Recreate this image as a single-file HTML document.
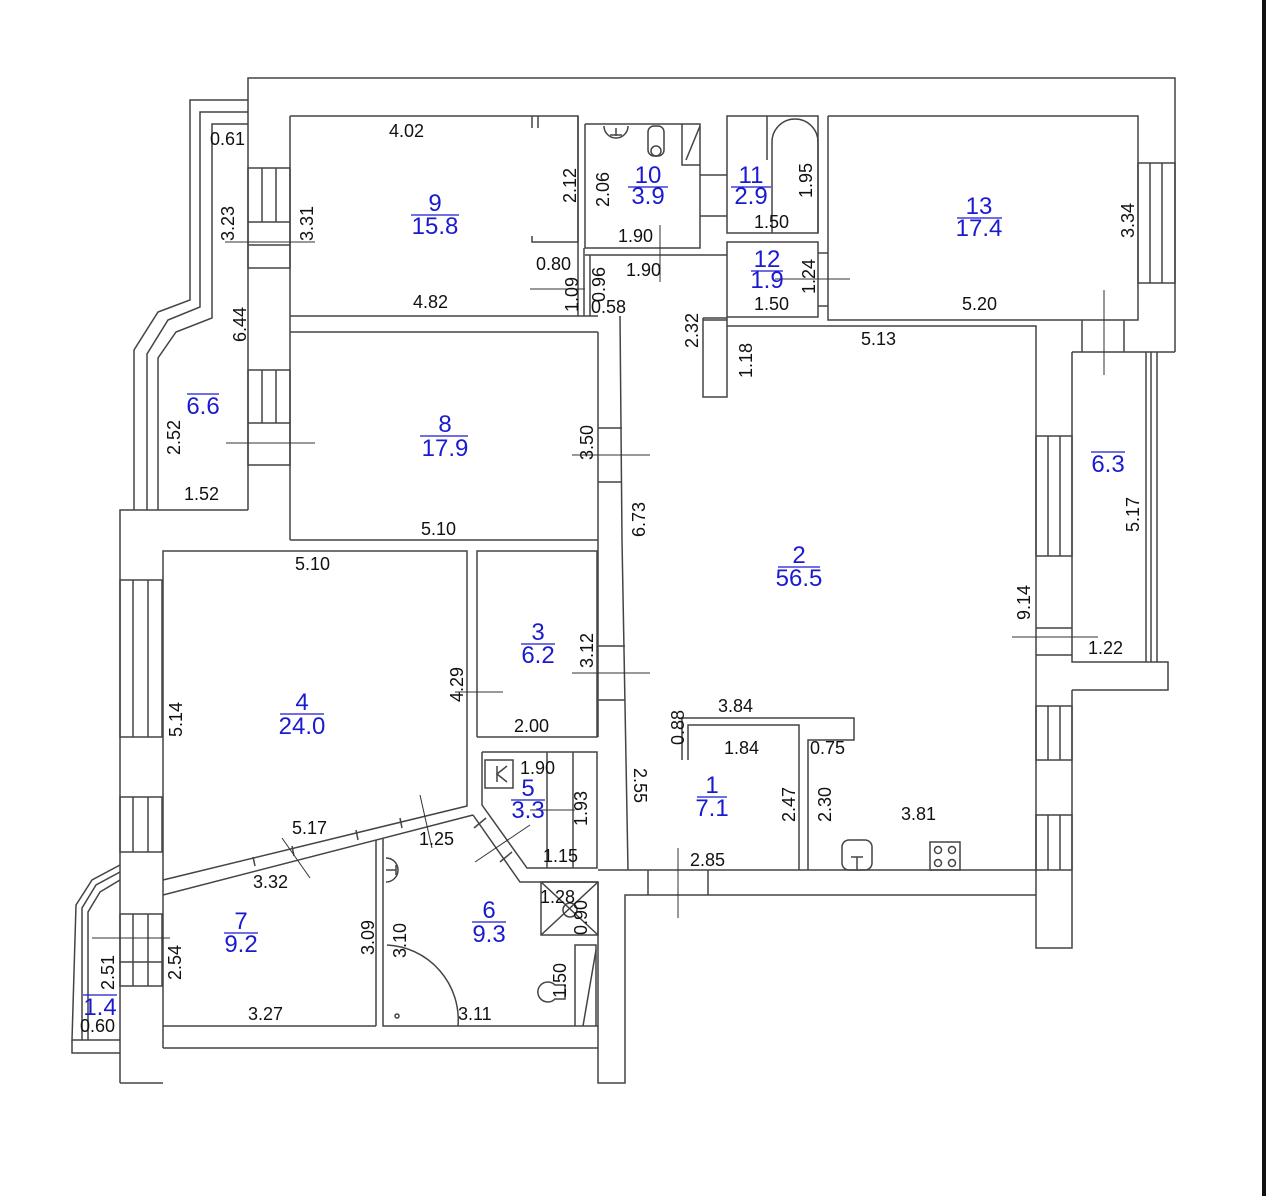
<!DOCTYPE html>
<html><head><meta charset="utf-8"><style>
html,body{margin:0;padding:0;background:#fff}
svg{display:block}
text{font-family:"Liberation Sans",sans-serif}
.d{font-size:18px;fill:#111}
.b{font-size:24px;fill:#1a1ad0}
</style></head><body>
<svg width="1266" height="1196" viewBox="0 0 1266 1196" xmlns="http://www.w3.org/2000/svg">
<rect x="1262" y="0" width="4" height="1196" fill="#111"/>
<g fill="none" stroke="#444" stroke-width="1.5">
<polyline points="248,510 248,78 1175,78 1175,352"/>
<polyline points="1072,352 1175,352"/>
<polyline points="290,116 578,116 578,242 532,242 532,236"/>
<line x1="532" y1="116" x2="532" y2="128"/><line x1="538" y1="116" x2="538" y2="128"/>
<line x1="578" y1="116" x2="578" y2="316"/>
<line x1="290" y1="116" x2="290" y2="540"/>
<line x1="290" y1="316" x2="598" y2="316"/>
<line x1="290" y1="332" x2="598" y2="332"/>
<polyline points="598,332 598,737"/>
<polyline points="620,316 622,540 628,870"/>
<line x1="290" y1="540" x2="598" y2="540"/>
<line x1="584" y1="248" x2="584" y2="316"/>
<line x1="590" y1="255" x2="590" y2="316"/>
<polyline points="585,124 700,124 700,248 585,248 585,124"/>
<line x1="585" y1="255" x2="727" y2="255"/>
<path d="M604,126 a12,12 0 0 0 24,0" /><line x1="616" y1="128" x2="616" y2="136"/><line x1="610" y1="135" x2="622" y2="135"/>
<rect x="648" y="126" width="16" height="30" rx="6"/><circle cx="656" cy="151" r="5"/>
<polyline points="682,124 682,165 700,165"/><line x1="686" y1="160" x2="700" y2="126"/>
<line x1="700" y1="175" x2="727" y2="175"/><line x1="700" y1="216" x2="727" y2="216"/>
<rect x="727" y="116" width="91" height="117"/>
<line x1="767" y1="116" x2="767" y2="160"/>
<path d="M772,233 L772,142 a23,23 0 0 1 46,0 L818,233"/>
<rect x="727" y="242" width="91" height="75"/>
<line x1="818" y1="253" x2="828" y2="253"/><line x1="818" y1="306" x2="828" y2="306"/>
<polyline points="828,116 1138,116 1138,320 828,320 828,116"/>
<rect x="1138" y="163" width="37" height="120"/>
<line x1="1150" y1="163" x2="1150" y2="283"/><line x1="1162" y1="163" x2="1162" y2="283"/>
<line x1="1082" y1="320" x2="1082" y2="352"/><line x1="1124" y1="320" x2="1124" y2="352"/>
<polyline points="703,318 727,318 727,397 703,397 703,318"/>
<line x1="703" y1="320" x2="727" y2="320"/>
<polyline points="727,326 1036,326 1036,870"/>
<polyline points="1072,352 1072,662 1168,662 1168,690 1072,690"/>
<line x1="1146" y1="352" x2="1146" y2="662"/><line x1="1151" y1="352" x2="1151" y2="662"/><line x1="1157" y1="352" x2="1157" y2="662"/>
<polyline points="1072,690 1072,948 1036,948 1036,870"/>
<rect x="1036" y="436" width="36" height="120"/><line x1="1048" y1="436" x2="1048" y2="556"/><line x1="1060" y1="436" x2="1060" y2="556"/>
<rect x="1036" y="706" width="36" height="54"/><line x1="1048" y1="706" x2="1048" y2="760"/><line x1="1060" y1="706" x2="1060" y2="760"/>
<rect x="1036" y="815" width="36" height="55"/><line x1="1048" y1="815" x2="1048" y2="870"/><line x1="1060" y1="815" x2="1060" y2="870"/>
<line x1="1036" y1="628" x2="1072" y2="628"/><line x1="1036" y1="655" x2="1072" y2="655"/>
<rect x="248" y="168" width="42" height="100"/><line x1="262" y1="168" x2="262" y2="222"/><line x1="276" y1="168" x2="276" y2="222"/><line x1="248" y1="222" x2="290" y2="222"/><line x1="248" y1="245" x2="290" y2="245"/>
<rect x="248" y="370" width="42" height="95"/><line x1="262" y1="370" x2="262" y2="423"/><line x1="276" y1="370" x2="276" y2="423"/><line x1="248" y1="423" x2="290" y2="423"/>
<polyline points="248,100 190,100 190,300 158,312 134,350 134,510"/>
<polyline points="248,112 200,112 200,307 168,320 147,354 147,510"/>
<polyline points="248,124 212,124 212,318 176,332 158,358 158,510"/>
<polyline points="120,1083 120,510 248,510"/>
<polyline points="163,1048 163,551 467,551 467,806 163,880"/>
<polyline points="163,895 473,815"/>
<rect x="120" y="580" width="42" height="157"/><line x1="133" y1="580" x2="133" y2="737"/><line x1="148" y1="580" x2="148" y2="737"/>
<rect x="120" y="797" width="42" height="55"/><line x1="133" y1="797" x2="133" y2="852"/><line x1="148" y1="797" x2="148" y2="852"/>
<rect x="120" y="914" width="42" height="72"/><line x1="133" y1="914" x2="133" y2="986"/><line x1="148" y1="914" x2="148" y2="986"/><line x1="120" y1="962" x2="162" y2="962"/>
<line x1="120" y1="1083" x2="163" y2="1083"/>
<line x1="163" y1="1048" x2="598" y2="1048"/>
<line x1="163" y1="1026" x2="376" y2="1026"/>
<line x1="253" y1="857" x2="255" y2="866"/><line x1="292" y1="846" x2="294" y2="856"/><line x1="356" y1="830" x2="358" y2="840"/><line x1="400" y1="818" x2="402" y2="828"/>
<polyline points="376,840 376,1026"/><polyline points="383,838 383,1026 598,1026"/>
<polyline points="477,737 477,551 597,551 597,737 477,737"/>
<polyline points="482,752 597,752 597,868 527,868 482,805 482,752"/>
<line x1="547" y1="752" x2="547" y2="868"/><line x1="573" y1="752" x2="573" y2="868"/>
<rect x="485" y="760" width="28" height="28"/><path d="M497,766 L497,782 M507,766 L497,774 L507,782"/>
<polyline points="473,815 520,882 598,882"/>
<line x1="474" y1="828" x2="486" y2="818"/><line x1="500" y1="862" x2="512" y2="852"/>
<rect x="541" y="882" width="57" height="53"/><line x1="541" y1="882" x2="598" y2="935"/><line x1="598" y1="882" x2="541" y2="935"/><circle cx="570" cy="910" r="7"/>
<path d="M575,1026 L575,945 L596,945 L596,1026"/><line x1="583" y1="1026" x2="596" y2="950"/>
<path d="M555,985 a10,10 0 1 0 0,14 L565,999 L565,985 Z"/>
<path d="M386,858 a12,12 0 0 1 0,24"/><line x1="386" y1="870" x2="396" y2="870"/><line x1="396" y1="865" x2="396" y2="875"/>
<path d="M387,945 A75,75 0 0 1 458,1026"/>
<circle cx="397" cy="1016" r="2"/>
<polyline points="598,882 598,1083 625,1083 625,895 1036,895"/>
<line x1="598" y1="870" x2="1036" y2="870"/>
<line x1="648" y1="870" x2="648" y2="895"/><line x1="708" y1="870" x2="708" y2="895"/>
<polyline points="682,760 682,718 854,718 854,740 808,740 808,870"/>
<polyline points="688,760 688,725 799,725 799,870"/>
<rect x="842" y="840" width="30" height="30" rx="7"/><line x1="857" y1="857" x2="857" y2="870"/><line x1="851" y1="857" x2="863" y2="857"/>
<rect x="930" y="842" width="30" height="28"/><circle cx="938" cy="850" r="3.5"/><circle cx="952" cy="850" r="3.5"/><circle cx="938" cy="863" r="3.5"/><circle cx="952" cy="863" r="3.5"/>
<line x1="598" y1="428" x2="622" y2="428"/><line x1="598" y1="482" x2="622" y2="482"/>
<line x1="598" y1="646" x2="625" y2="646"/><line x1="598" y1="700" x2="625" y2="700"/>
<polyline points="120,865 92,880 76,905 72,1040 120,1040"/>
<polyline points="120,872 96,885 82,908 82,1040"/>
<polyline points="120,880 100,892 88,912 88,1040"/>
<polyline points="72,1040 72,1053 120,1053"/>
</g>
<g stroke="#333" stroke-width="1">
<line x1="225" y1="242" x2="315" y2="242"/><line x1="226" y1="443" x2="315" y2="443"/>
<line x1="530" y1="289" x2="585" y2="289"/><line x1="660" y1="225" x2="660" y2="282"/>
<line x1="775" y1="279" x2="850" y2="279"/><line x1="1104" y1="290" x2="1104" y2="375"/>
<line x1="572" y1="455" x2="650" y2="455"/><line x1="572" y1="673" x2="650" y2="673"/>
<line x1="455" y1="692" x2="503" y2="692"/><line x1="420" y1="795" x2="432" y2="848"/>
<line x1="282" y1="838" x2="310" y2="878"/><line x1="475" y1="862" x2="530" y2="825"/>
<line x1="530" y1="810" x2="575" y2="810"/><line x1="678" y1="848" x2="678" y2="918"/>
<line x1="1012" y1="637" x2="1098" y2="637"/><line x1="92" y1="938" x2="170" y2="938"/>
</g>
<g class="d">
<text x="389" y="137">4.02</text><text x="210" y="145">0.61</text>
<text x="413" y="308">4.82</text><text x="536" y="270">0.80</text>
<text x="618" y="242">1.90</text><text x="626" y="276">1.90</text>
<text x="591" y="313">0.58</text><text x="754" y="228">1.50</text>
<text x="754" y="310">1.50</text><text x="962" y="310">5.20</text>
<text x="861" y="345">5.13</text><text x="184" y="500">1.52</text>
<text x="421" y="535">5.10</text><text x="295" y="570">5.10</text>
<text x="514" y="732">2.00</text><text x="718" y="712">3.84</text>
<text x="724" y="754">1.84</text><text x="810" y="754">0.75</text>
<text x="520" y="774">1.90</text><text x="543" y="862">1.15</text>
<text x="901" y="820">3.81</text><text x="690" y="866">2.85</text>
<text x="1088" y="654">1.22</text><text x="292" y="834">5.17</text>
<text x="419" y="845">1.25</text><text x="253" y="888">3.32</text>
<text x="540" y="903">1.28</text><text x="248" y="1020">3.27</text>
<text x="458" y="1020">3.11</text><text x="80" y="1032">0.60</text>
</g>
<g class="d">
<text transform="translate(234,241) rotate(-90)">3.23</text>
<text transform="translate(313,241) rotate(-90)">3.31</text>
<text transform="translate(576,203) rotate(-90)">2.12</text>
<text transform="translate(609,207) rotate(-90)">2.06</text>
<text transform="translate(812,198) rotate(-90)">1.95</text>
<text transform="translate(1134,238) rotate(-90)">3.34</text>
<text transform="translate(815,294) rotate(-90)">1.24</text>
<text transform="translate(578,312) rotate(-90)">1.09</text>
<text transform="translate(605,302) rotate(-90)">0.96</text>
<text transform="translate(246,342) rotate(-90)">6.44</text>
<text transform="translate(698,348) rotate(-90)">2.32</text>
<text transform="translate(752,378) rotate(-90)">1.18</text>
<text transform="translate(180,455) rotate(-90)">2.52</text>
<text transform="translate(593,460) rotate(-90)">3.50</text>
<text transform="translate(645,537) rotate(-90)">6.73</text>
<text transform="translate(1139,532) rotate(-90)">5.17</text>
<text transform="translate(1030,620) rotate(-90)">9.14</text>
<text transform="translate(593,668) rotate(-90)">3.12</text>
<text transform="translate(463,702) rotate(-90)">4.29</text>
<text transform="translate(182,737) rotate(-90)">5.14</text>
<text transform="translate(684,745) rotate(-90)">0.88</text>
<text transform="translate(634,768) rotate(90)">2.55</text>
<text transform="translate(795,822) rotate(-90)">2.47</text>
<text transform="translate(831,822) rotate(-90)">2.30</text>
<text transform="translate(587,826) rotate(-90)">1.93</text>
<text transform="translate(374,955) rotate(-90)">3.09</text>
<text transform="translate(406,958) rotate(-90)">3.10</text>
<text transform="translate(587,935) rotate(-90)">0.90</text>
<text transform="translate(181,980) rotate(-90)">2.54</text>
<text transform="translate(114,990) rotate(-90)">2.51</text>
<text transform="translate(566,998) rotate(-90)">1.50</text>
</g>
<g class="b" text-anchor="middle">
<text x="435" y="211">9</text><text x="435" y="234">15.8</text>
<text x="445" y="432">8</text><text x="445" y="456">17.9</text>
<text x="203" y="414">6.6</text>
<text x="648" y="183">10</text><text x="648" y="204">3.9</text>
<text x="751" y="183">11</text><text x="751" y="204">2.9</text>
<text x="767" y="267">12</text><text x="767" y="288">1.9</text>
<text x="979" y="214">13</text><text x="979" y="236">17.4</text>
<text x="1108" y="472">6.3</text>
<text x="799" y="563">2</text><text x="799" y="586">56.5</text>
<text x="538" y="640">3</text><text x="538" y="663">6.2</text>
<text x="302" y="710">4</text><text x="302" y="734">24.0</text>
<text x="528" y="796">5</text><text x="528" y="818">3.3</text>
<text x="712" y="793">1</text><text x="712" y="816">7.1</text>
<text x="489" y="918">6</text><text x="489" y="942">9.3</text>
<text x="241" y="929">7</text><text x="241" y="952">9.2</text>
<text x="100" y="1015">1.4</text>
</g>
<g stroke="#1a1ad0" stroke-width="1.2">
<line x1="411" y1="215" x2="459" y2="215"/><line x1="420" y1="436" x2="468" y2="436"/>
<line x1="187" y1="394" x2="219" y2="394"/><line x1="628" y1="187" x2="668" y2="187"/>
<line x1="731" y1="187" x2="771" y2="187"/><line x1="751" y1="271" x2="783" y2="271"/>
<line x1="957" y1="218" x2="1002" y2="218"/><line x1="1091" y1="452" x2="1125" y2="452"/>
<line x1="778" y1="567" x2="820" y2="567"/><line x1="521" y1="644" x2="555" y2="644"/>
<line x1="280" y1="714" x2="324" y2="714"/><line x1="511" y1="800" x2="545" y2="800"/>
<line x1="697" y1="797" x2="727" y2="797"/><line x1="472" y1="922" x2="506" y2="922"/>
<line x1="224" y1="933" x2="258" y2="933"/><line x1="83" y1="995" x2="117" y2="995"/>
</g>
</svg>
</body></html>
